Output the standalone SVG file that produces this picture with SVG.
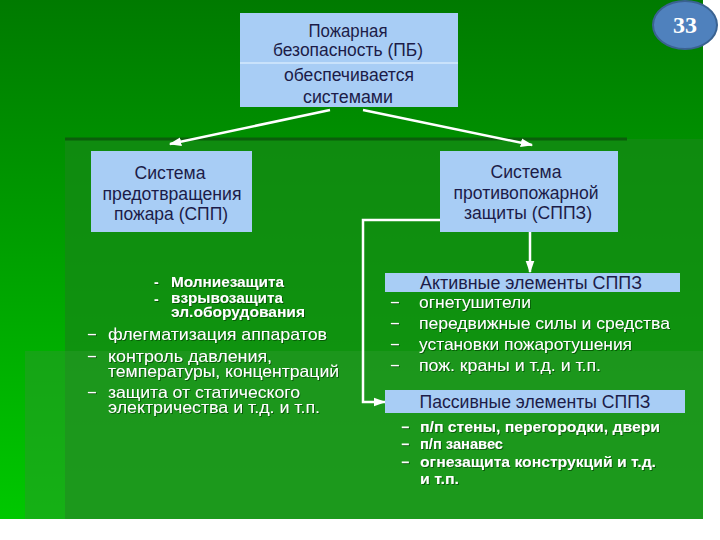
<svg xmlns="http://www.w3.org/2000/svg" width="720" height="540" viewBox="0 0 720 540">
  <defs>
    <linearGradient id="bg" x1="0" y1="0" x2="0" y2="1">
      <stop offset="0" stop-color="#007a00"/>
      <stop offset="1" stop-color="#00c800"/>
    </linearGradient>
    <filter id="sh" x="-5%" y="-20%" width="110%" height="150%">
      <feDropShadow dx="1" dy="1" stdDeviation="0.6" flood-color="#003000" flood-opacity="0.6"/>
    </filter>
    <marker id="ah" viewBox="0 0 10 10" refX="9" refY="5" markerWidth="5" markerHeight="5" orient="auto" markerUnits="strokeWidth">
      <path d="M0,1.5 L10,5 L0,8.5 Z" fill="#ffffff"/>
    </marker>
    <style>
      .box { fill: #a8cdf5; }
      .bt { font-family: "Liberation Sans", Arial, sans-serif; font-size: 17.5px; fill: #1c1c48; text-anchor: middle; }
      .wl { font-family: "Liberation Sans", Arial, sans-serif; font-size: 16.5px; fill: #ffffff; filter: url(#sh); }
      .wb { font-family: "Liberation Sans", Arial, sans-serif; font-size: 14px; font-weight: bold; fill: #ffffff; filter: url(#sh); }
      .conn { stroke: #ffffff; stroke-width: 2.5; fill: none; }
    </style>
  </defs>

  <rect x="0" y="0" width="720" height="540" fill="#ffffff"/>
  <rect x="0" y="0" width="703" height="519" fill="url(#bg)"/>
  <rect x="65" y="139" width="638" height="380" fill="#148a14" opacity="0.75"/>
  <rect x="25" y="351" width="678" height="168" fill="#2a9a2a" opacity="0.5"/>
  <line x1="65" y1="139" x2="627" y2="139" stroke="#0b5e0b" stroke-width="3"/>

  <g id="connectors">
    <line class="conn" x1="330" y1="110" x2="170" y2="144" marker-end="url(#ah)"/>
    <line class="conn" x1="363" y1="110" x2="532" y2="145" marker-end="url(#ah)"/>
    <line class="conn" x1="530" y1="232" x2="530" y2="272" marker-end="url(#ah)"/>
    <polyline class="conn" points="440,220 363,220 363,402 385,402" marker-end="url(#ah)"/>
  </g>

  <g id="badge">
    <ellipse cx="685" cy="25" rx="32" ry="24" fill="#4f81bd" stroke="#3a6291" stroke-width="2"/>
    <text x="685" y="33" font-family="Liberation Serif, serif" font-size="24" font-weight="bold" fill="#ffffff" text-anchor="middle">33</text>
  </g>

  <g id="pb">
    <rect class="box" x="240" y="13" width="218" height="94"/>
    <line x1="240" y1="63" x2="458" y2="63" stroke="#d4e8fc" stroke-width="1.5"/>
    <text class="bt" x="348" y="37" textLength="79" lengthAdjust="spacingAndGlyphs">Пожарная</text>
    <text class="bt" x="348" y="56" textLength="150" lengthAdjust="spacingAndGlyphs">безопасность (ПБ)</text>
    <text class="bt" x="349" y="81" textLength="130" lengthAdjust="spacingAndGlyphs">обеспечивается</text>
    <text class="bt" x="348" y="103" textLength="90" lengthAdjust="spacingAndGlyphs">системами</text>
  </g>

  <g id="spp">
    <rect class="box" x="91" y="151" width="161" height="81"/>
    <text class="bt" x="170" y="179" textLength="71" lengthAdjust="spacingAndGlyphs">Система</text>
    <text class="bt" x="172" y="200" textLength="139" lengthAdjust="spacingAndGlyphs">предотвращения</text>
    <text class="bt" x="171" y="220" textLength="114" lengthAdjust="spacingAndGlyphs">пожара (СПП)</text>
  </g>

  <g id="sppz">
    <rect class="box" x="440" y="151" width="178" height="81"/>
    <text class="bt" x="526" y="178" textLength="71" lengthAdjust="spacingAndGlyphs">Система</text>
    <text class="bt" x="526" y="199" textLength="145" lengthAdjust="spacingAndGlyphs">противопожарной</text>
    <text class="bt" x="528" y="219" textLength="128" lengthAdjust="spacingAndGlyphs">защиты (СППЗ)</text>
  </g>

  <g id="spp-list">
    <text class="wb" x="154" y="287">-</text>
    <text class="wb" x="171" y="287" textLength="113" lengthAdjust="spacingAndGlyphs">Молниезащита</text>
    <text class="wb" x="154" y="304">-</text>
    <text class="wb" x="171" y="303" textLength="112" lengthAdjust="spacingAndGlyphs">взрывозащита</text>
    <text class="wb" x="171" y="317" textLength="134" lengthAdjust="spacingAndGlyphs">эл.оборудования</text>
    <text class="wl" x="87" y="340">−</text>
    <text class="wl" x="108" y="340" textLength="219" lengthAdjust="spacingAndGlyphs">флегматизация аппаратов</text>
    <text class="wl" x="87" y="362">−</text>
    <text class="wl" x="108" y="362" textLength="164" lengthAdjust="spacingAndGlyphs">контроль давления,</text>
    <text class="wl" x="108" y="377" textLength="231" lengthAdjust="spacingAndGlyphs">температуры, концентраций</text>
    <text class="wl" x="87" y="398">−</text>
    <text class="wl" x="108" y="398" textLength="192" lengthAdjust="spacingAndGlyphs">защита от статического</text>
    <text class="wl" x="108" y="413" textLength="212" lengthAdjust="spacingAndGlyphs">электричества и т.д. и т.п.</text>
  </g>

  <g id="active">
    <rect class="box" x="385" y="273" width="295" height="19"/>
    <text class="bt" x="531" y="289" textLength="222" lengthAdjust="spacingAndGlyphs">Активные элементы СППЗ</text>
    <text class="wl" x="390" y="308">−</text>
    <text class="wl" x="419" y="308" textLength="112" lengthAdjust="spacingAndGlyphs">огнетушители</text>
    <text class="wl" x="390" y="329">−</text>
    <text class="wl" x="419" y="329" textLength="251" lengthAdjust="spacingAndGlyphs">передвижные силы и средства</text>
    <text class="wl" x="390" y="350">−</text>
    <text class="wl" x="419" y="350" textLength="213" lengthAdjust="spacingAndGlyphs">установки пожаротушения</text>
    <text class="wl" x="390" y="371">−</text>
    <text class="wl" x="419" y="371" textLength="182" lengthAdjust="spacingAndGlyphs">пож. краны и т.д. и т.п.</text>
  </g>

  <g id="passive">
    <rect class="box" x="385" y="390" width="300" height="23"/>
    <text class="bt" x="535" y="408" textLength="231" lengthAdjust="spacingAndGlyphs">Пассивные элементы СППЗ</text>
    <text class="wb" x="401" y="432">−</text>
    <text class="wb" x="420" y="432" textLength="240" lengthAdjust="spacingAndGlyphs">п/п стены, перегородки, двери</text>
    <text class="wb" x="401" y="449">−</text>
    <text class="wb" x="420" y="449" textLength="83" lengthAdjust="spacingAndGlyphs">п/п занавес</text>
    <text class="wb" x="401" y="467">−</text>
    <text class="wb" x="420" y="467" textLength="236" lengthAdjust="spacingAndGlyphs">огнезащита конструкций и т.д.</text>
    <text class="wb" x="420" y="484" textLength="39" lengthAdjust="spacingAndGlyphs">и т.п.</text>
  </g>
</svg>
